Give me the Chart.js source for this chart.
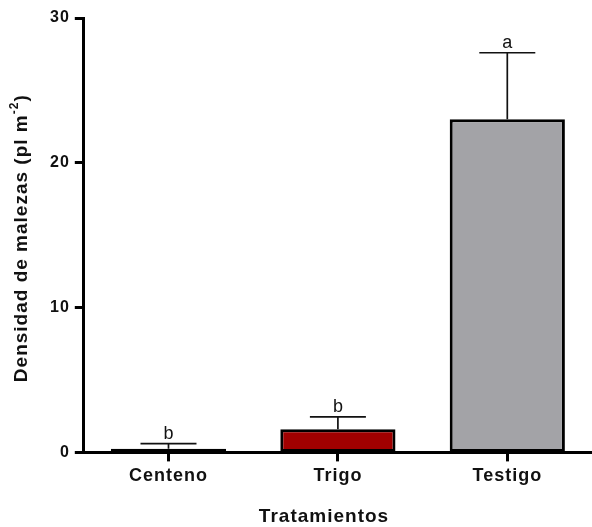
<!DOCTYPE html>
<html>
<head>
<meta charset="utf-8">
<script src="https://cdn.jsdelivr.net/npm/chart.js@4.4.0/dist/chart.umd.min.js"></script>
<style>
  html, body { margin: 0; padding: 0; background: #fff; }
  #wrap { width: 592px; height: 527px; position: relative; }
</style>
</head>
<body>
<div id="wrap"><canvas id="chart"></canvas></div>
<script>
window.addEventListener("DOMContentLoaded", () => {

  const categories = ["Centeno", "Trigo", "Testigo"];
  const means = [0.25, 1.6, 23];
  const errors = [0.35, 0.85, 4.6]; // upper error only
  const letters = ["b", "b", "a"];
  const barColors = ["#000000", "#a00000", "#a3a3a7"];
  const yTicks = [0, 10, 20, 30];

  const font = "'Liberation Sans', Arial, sans-serif";

  // the reference text is a bit spaced out
  const spacing = {
    id: "spacing",
    beforeLayout(chart) { chart.ctx.letterSpacing = "1px"; },
    beforeDraw(chart) { chart.ctx.letterSpacing = "1px"; }
  };

  // error bars + letters, drawn through the scales
  const errorBars = {
    id: "errorBars",
    afterDatasetsDraw(chart) {
      const ctx = chart.ctx;
      const x = chart.scales.x, y = chart.scales.y;
      ctx.save();
      ctx.letterSpacing = "0px";
      ctx.strokeStyle = "#111";
      ctx.lineWidth = 1.7;
      means.forEach((m, i) => {
        const cx = x.getPixelForValue(i);
        const yTop = y.getPixelForValue(m + errors[i]);
        const yBar = y.getPixelForValue(m);
        ctx.beginPath();
        ctx.moveTo(cx, yBar);
        ctx.lineTo(cx, yTop);
        ctx.moveTo(cx - 28, yTop);
        ctx.lineTo(cx + 28, yTop);
        ctx.stroke();
        ctx.fillStyle = "#111";
        ctx.font = "18px " + font;
        ctx.textAlign = "center";
        ctx.textBaseline = "bottom";
        ctx.fillText(letters[i], cx, yTop - 1);
      });
      ctx.restore();
    }
  };

  // axis titles (y one has a superscript)
  const titles = {
    id: "titles",
    afterDraw(chart) {
      const ctx = chart.ctx;
      const area = chart.chartArea;
      const main = "Densidad de malezas (pl m";
      const sup = "-2";
      const end = ")";
      ctx.save();
      ctx.letterSpacing = "1px";
      ctx.fillStyle = "#111";
      ctx.textBaseline = "middle";

      ctx.save();
      ctx.translate(22, (area.top + area.bottom) / 2 + 3);
      ctx.rotate(-Math.PI / 2);
      ctx.font = "bold 19px " + font;
      const w1 = ctx.measureText(main).width;
      const w3 = ctx.measureText(end).width;
      ctx.font = "bold 12px " + font;
      const w2 = ctx.measureText(sup).width;
      let sx = -(w1 + w2 + w3) / 2;
      ctx.textAlign = "left";
      ctx.font = "bold 19px " + font;
      ctx.fillText(main, sx, 0);
      sx += w1;
      ctx.font = "bold 12px " + font;
      ctx.fillText(sup, sx, -7);
      sx += w2;
      ctx.font = "bold 19px " + font;
      ctx.fillText(end, sx, 0);
      ctx.restore();

      ctx.textAlign = "center";
      ctx.font = "bold 19px " + font;
      ctx.fillText("Tratamientos", 324, 517);
      ctx.restore();
    }
  };

  new Chart(document.getElementById("chart"), {
    type: "bar",
    data: {
      labels: categories,
      datasets: [{
        data: means,
        backgroundColor: barColors,
        borderColor: "#000",
        borderWidth: 3,
        borderSkipped: false,
        barPercentage: 0.68,
        categoryPercentage: 1
      }]
    },
    options: {
      responsive: true,
      maintainAspectRatio: false,
      animation: false,
      layout: { padding: { top: 18, right: 0, bottom: 36, left: 45 } },
      plugins: {
        legend: { display: false },
        tooltip: { enabled: false }
      },
      scales: {
        x: {
          offset: true,
          grid: {
            offset: false,
            drawOnChartArea: false,
            drawTicks: true,
            tickLength: 9,
            tickWidth: 3,
            tickColor: "#000"
          },
          border: { display: true, color: "#000", width: 3 },
          ticks: {
            color: "#111",
            padding: 4,
            font: { family: font, size: 18, weight: "bold" }
          }
        },
        y: {
          min: 0,
          max: 30,
          afterBuildTicks(scale) {
            scale.ticks = yTicks.map(v => ({ value: v }));
          },
          grid: {
            drawOnChartArea: false,
            drawTicks: true,
            tickLength: 9,
            tickWidth: 3,
            tickColor: "#000"
          },
          border: { display: true, color: "#000", width: 3 },
          ticks: {
            color: "#111",
            padding: 5,
            font: { family: font, size: 16, weight: "bold" }
          }
        }
      }
    },
    plugins: [spacing, errorBars, titles]
  });

});
</script>
</body>
</html>
